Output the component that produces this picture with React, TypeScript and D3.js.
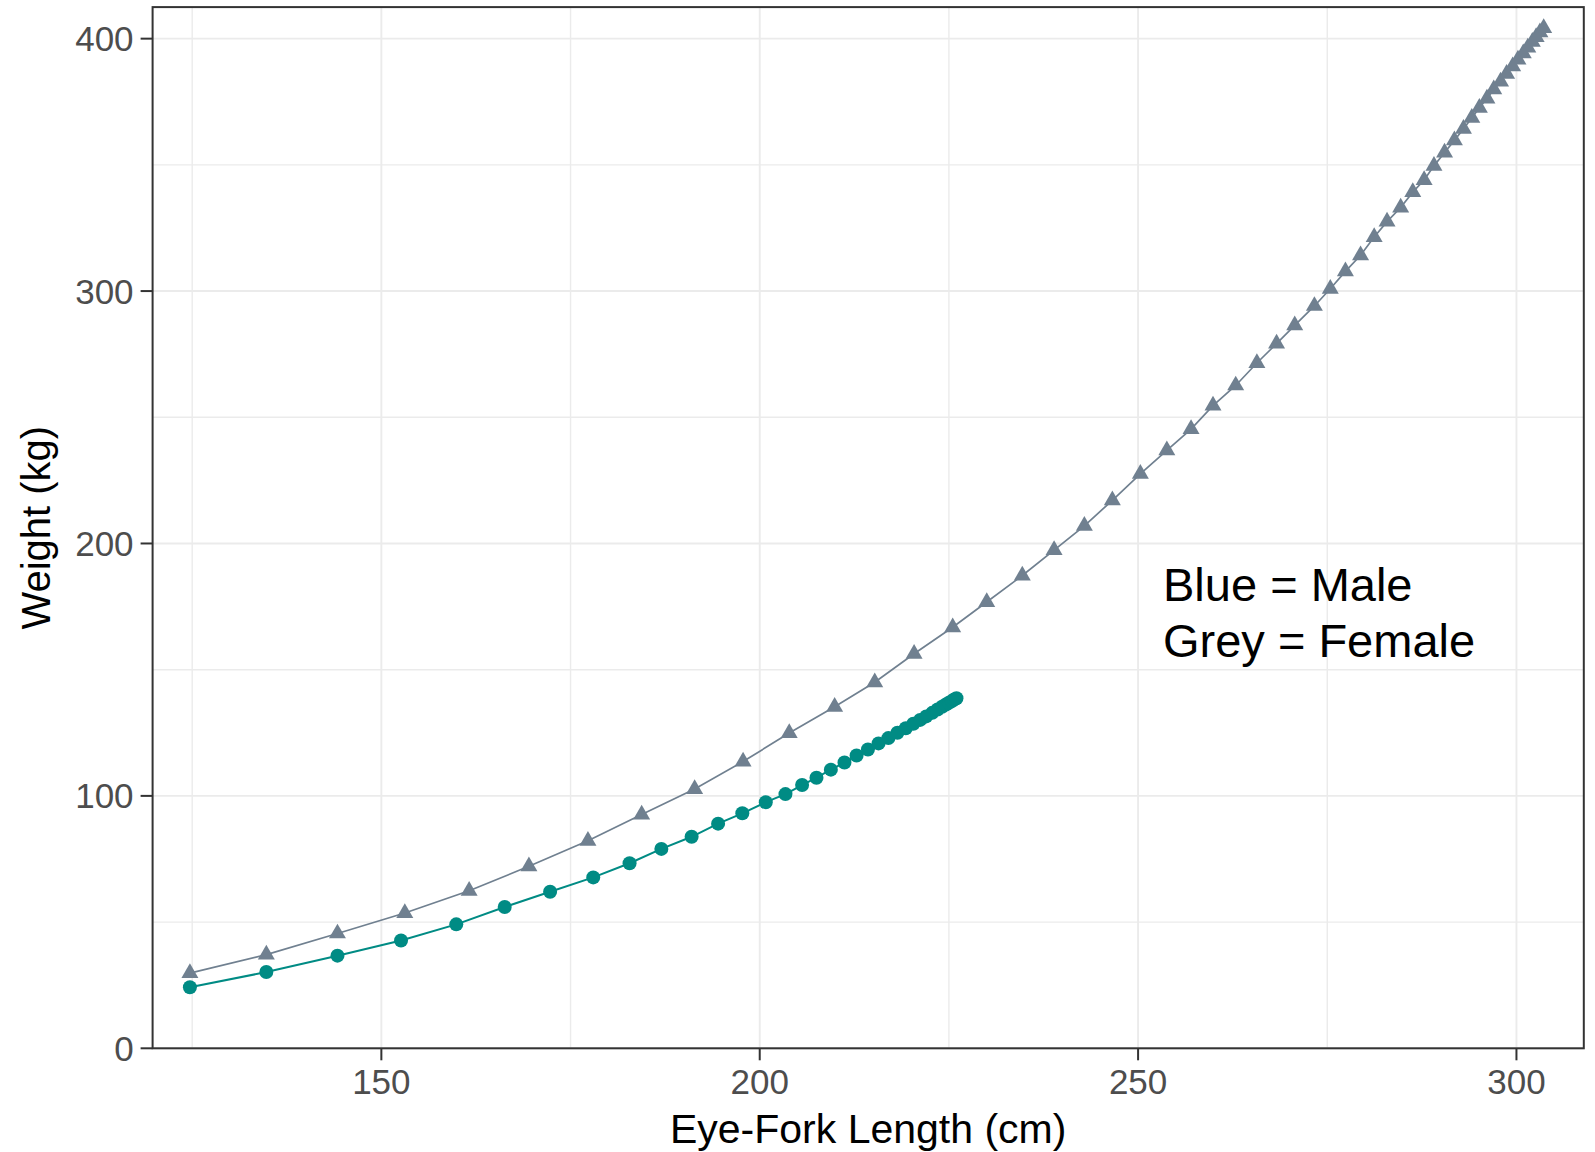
import React from "react";
import * as d3 from "d3";

const femaleLength = [
  124.7, 134.8, 144.2, 153.1, 161.6, 169.5, 177.3, 184.4, 191.4, 197.8,
  203.9, 209.9, 215.2, 220.4, 225.5, 230.0, 234.7, 238.9, 242.9, 246.6,
  250.3, 253.8, 257.0, 259.9, 262.9, 265.7, 268.3, 270.7, 273.3, 275.4,
  277.4, 279.4, 281.2, 282.9, 284.7, 286.3, 287.8, 289.1, 290.5, 291.8,
  293.0, 294.1, 295.1, 296.1, 297.0, 297.9, 298.7, 299.5, 300.2, 300.9,
  301.5, 302.1, 302.6, 303.1, 303.6,
];
const femaleWeight = [
  29.8, 37.1, 45.5, 53.6, 62.4, 72.1, 82.2, 92.6, 102.7, 113.6,
  124.9, 135.3, 145.0, 156.3, 166.8, 176.8, 187.3, 197.4, 207.0, 217.1,
  227.6, 236.9, 245.3, 254.6, 262.6, 271.5, 279.2, 286.4, 294.1, 300.9,
  307.8, 314.2, 321.4, 327.5, 333.1, 339.2, 344.0, 349.6, 354.9, 359.7,
  364.3, 368.6, 372.6, 376.3, 379.9, 383.0, 386.1, 389.0, 391.7, 394.2,
  396.5, 398.7, 400.6, 402.5, 404.2,
];

const maleLength = [
  124.7, 134.8, 144.2, 152.6, 159.9, 166.3, 172.3, 178.0, 182.8, 187.0,
  191.0, 194.5, 197.7, 200.8, 203.4, 205.6, 207.5, 209.4, 211.2, 212.8,
  214.3, 215.7, 217.0, 218.2, 219.3, 220.3, 221.2, 222.0, 222.8, 223.5,
  224.1, 224.6, 225.0, 225.4, 225.7, 226.0,
];
const maleWeight = [
  24.2, 30.2, 36.7, 42.7, 49.1, 56.0, 62.0, 67.7, 73.3, 79.0,
  83.8, 89.0, 93.1, 97.5, 100.7, 104.3, 107.2, 110.4, 113.2, 116.0,
  118.4, 120.8, 122.9, 125.0, 126.8, 128.6, 130.1, 131.5, 132.9, 134.2,
  135.3, 136.2, 136.9, 137.6, 138.2, 138.7,
];

const xTicks = [150, 200, 250, 300];
const xMinorTicks = [125, 175, 225, 275];
const yTicks = [0, 100, 200, 300, 400];
const yMinorTicks = [50, 150, 250, 350];

const annotationLines = ["Blue = Male", "Grey = Female"];

const FONT = "'Liberation Sans', Arial, Helvetica, sans-serif";
const MALE_COLOR = "#008B84";
const FEMALE_COLOR = "#708090";

export default function App() {
  const W = 1595;
  const H = 1152;
  const left = 152.6;
  const right = 1583.8;
  const top = 7.1;
  const bottom = 1048.3;

  const x = d3.scaleLinear().domain([119.77, 308.9]).range([left, right]);
  const y = d3.scaleLinear().domain([0, 412.5]).range([bottom, top]);

  const female = femaleLength.map((l, i) => ({ l, w: femaleWeight[i] }));
  const male = maleLength.map((l, i) => ({ l, w: maleWeight[i] }));

  const line = d3
    .line<{ l: number; w: number }>()
    .x((d) => x(d.l))
    .y((d) => y(d.w));

  const tri = d3.symbol().type(d3.symbolTriangle).size(125)() as string;

  return (
    <svg
      width={W}
      height={H}
      style={{ position: "absolute", left: 0, top: 0, background: "#fff" }}
    >
      <rect x={0} y={0} width={W} height={H} fill="#fff" />
      {xMinorTicks.map((t) => (
        <line key={"xm" + t} x1={x(t)} x2={x(t)} y1={top} y2={bottom} stroke="#EBEBEB" strokeWidth={1.4} />
      ))}
      {yMinorTicks.map((t) => (
        <line key={"ym" + t} x1={left} x2={right} y1={y(t)} y2={y(t)} stroke="#EBEBEB" strokeWidth={1.4} />
      ))}
      {xTicks.map((t) => (
        <line key={"xM" + t} x1={x(t)} x2={x(t)} y1={top} y2={bottom} stroke="#EBEBEB" strokeWidth={1.9} />
      ))}
      {yTicks.map((t) => (
        <line key={"yM" + t} x1={left} x2={right} y1={y(t)} y2={y(t)} stroke="#EBEBEB" strokeWidth={1.9} />
      ))}

      <path d={line(female) as string} fill="none" stroke={FEMALE_COLOR} strokeWidth={1.7} />
      <path d={line(male) as string} fill="none" stroke={MALE_COLOR} strokeWidth={2} />

      {female.map((d, i) => (
        <path key={"f" + i} d={tri} transform={`translate(${x(d.l)},${y(d.w)})`} fill={FEMALE_COLOR} />
      ))}
      {male.map((d, i) => (
        <circle key={"m" + i} cx={x(d.l)} cy={y(d.w)} r={7} fill={MALE_COLOR} />
      ))}

      <rect x={left} y={top} width={right - left} height={bottom - top} fill="none" stroke="#333333" strokeWidth={2} />

      {yTicks.map((t) => (
        <g key={"yt" + t}>
          <line x1={left - 12} x2={left} y1={y(t)} y2={y(t)} stroke="#333333" strokeWidth={2} />
          <text
            x={left - 19}
            y={y(t)}
            dy="0.36em"
            textAnchor="end"
            fontFamily={FONT}
            fontSize={35}
            fill="#4D4D4D"
          >
            {t}
          </text>
        </g>
      ))}
      {xTicks.map((t) => (
        <g key={"xt" + t}>
          <line x1={x(t)} x2={x(t)} y1={bottom} y2={bottom + 12} stroke="#333333" strokeWidth={2} />
          <text
            x={x(t)}
            y={bottom + 46}
            textAnchor="middle"
            fontFamily={FONT}
            fontSize={35}
            fill="#4D4D4D"
          >
            {t}
          </text>
        </g>
      ))}

      <text
        x={(left + right) / 2}
        y={1143}
        textAnchor="middle"
        fontFamily={FONT}
        fontSize={41}
        fill="#000"
      >
        Eye-Fork Length (cm)
      </text>
      <text
        transform={`translate(50,${(top + bottom) / 2}) rotate(-90)`}
        textAnchor="middle"
        fontFamily={FONT}
        fontSize={40}
        fill="#000"
      >
        Weight (kg)
      </text>

      {annotationLines.map((s, i) => (
        <text
          key={"a" + i}
          x={1163}
          y={601 + i * 56}
          fontFamily={FONT}
          fontSize={47}
          fill="#000"
        >
          {s}
        </text>
      ))}
    </svg>
  );
}
